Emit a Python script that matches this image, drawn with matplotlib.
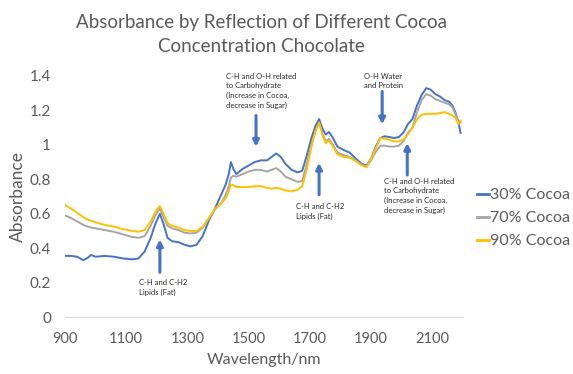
import matplotlib
matplotlib.use("Agg")
import matplotlib.pyplot as plt

plt.rcParams['font.family'] = ['Lato', 'DejaVu Sans']

wavelength = [900, 920, 940, 960, 975, 985, 1000, 1030, 1060, 1090, 1120, 1140, 1160, 1180, 1195, 1210,
              1222, 1235, 1250, 1270, 1290, 1310, 1330, 1350, 1370, 1390, 1410, 1425, 1435, 1442, 1450,
              1460, 1480, 1500, 1520, 1540, 1560, 1575, 1590, 1605, 1620, 1640, 1660, 1675, 1690, 1705,
              1718, 1730, 1742, 1752, 1762, 1772, 1790, 1810, 1830, 1850, 1870, 1885, 1900, 1915, 1930,
              1945, 1960, 1975, 1990, 2005, 2020, 2035, 2050, 2065, 2080, 2095, 2110, 2125, 2140, 2155,
              2165, 2175, 2185, 2192]

cocoa30 = [0.355, 0.355, 0.35, 0.33, 0.345, 0.36, 0.35, 0.355, 0.35, 0.34, 0.335, 0.34, 0.38, 0.46, 0.54, 0.60,
           0.54, 0.46, 0.44, 0.435, 0.42, 0.41, 0.42, 0.47, 0.56, 0.63, 0.71, 0.77, 0.83, 0.90, 0.86,
           0.83, 0.86, 0.88, 0.90, 0.91, 0.91, 0.93, 0.95, 0.93, 0.89, 0.855, 0.84, 0.85, 0.94, 1.04,
           1.11, 1.15, 1.09, 1.06, 1.075, 1.05, 0.99, 0.97, 0.955, 0.92, 0.89, 0.88, 0.92, 0.99, 1.04,
           1.05, 1.045, 1.04, 1.045, 1.07, 1.12, 1.15, 1.23, 1.29, 1.33, 1.32, 1.295, 1.28, 1.26, 1.25,
           1.23, 1.19, 1.13, 1.07]

cocoa70 = [0.59, 0.575, 0.555, 0.535, 0.525, 0.52, 0.515, 0.505, 0.495, 0.48, 0.465, 0.46, 0.47, 0.53, 0.59, 0.63,
           0.58, 0.53, 0.515, 0.505, 0.49, 0.485, 0.49, 0.52, 0.57, 0.625, 0.66, 0.71, 0.76, 0.81, 0.82,
           0.815, 0.83, 0.845, 0.855, 0.855, 0.845, 0.855, 0.865, 0.845, 0.815, 0.80, 0.785, 0.79, 0.89, 1.00,
           1.08, 1.13, 1.06, 1.02, 1.035, 1.01, 0.955, 0.94, 0.93, 0.91, 0.885, 0.875, 0.91, 0.96, 0.995,
           0.995, 0.99, 0.99, 0.995, 1.02, 1.07, 1.10, 1.19, 1.26, 1.295, 1.285, 1.265, 1.255, 1.245, 1.235,
           1.22, 1.18, 1.14, 1.13]

cocoa90 = [0.65, 0.63, 0.605, 0.58, 0.565, 0.56, 0.55, 0.535, 0.525, 0.51, 0.50, 0.495, 0.505, 0.555, 0.61, 0.645,
           0.60, 0.545, 0.53, 0.52, 0.505, 0.50, 0.50, 0.525, 0.575, 0.63, 0.66, 0.69, 0.73, 0.77, 0.765,
           0.755, 0.755, 0.755, 0.76, 0.76, 0.75, 0.745, 0.75, 0.745, 0.735, 0.73, 0.74, 0.76, 0.86, 0.99,
           1.08, 1.13, 1.05, 1.01, 1.025, 1.0, 0.945, 0.93, 0.925, 0.905, 0.88, 0.87, 0.92, 0.98, 1.04,
           1.035, 1.03, 1.02, 1.02, 1.03, 1.06, 1.10, 1.15, 1.175, 1.18, 1.18, 1.18, 1.185, 1.19, 1.18,
           1.17, 1.16, 1.12, 1.14]

series_names = ['30% Cocoa', '70% Cocoa', '90% Cocoa']
colors = ['#4472C4', '#A5A5A5', '#FFC000']

x_ticks = [900, 1100, 1300, 1500, 1700, 1900, 2100]
y_ticks = [0, 0.2, 0.4, 0.6, 0.8, 1.0, 1.2, 1.4]
y_labels = ['0', '0.2', '0.4', '0.6', '0.8', '1', '1.2', '1.4']

annotations = [
    ("C-H and C-H2\nLipids (Fat)", (1210, 0.45), (1210, 0.26), (1142, 0.22)),
    ("C-H and O-H related\nto Carbohydrate\n(Increase in Cocoa,\ndecrease in Sugar)", (1524, 0.99), (1524, 1.17), (1426, 1.42)),
    ("C-H and C-H2\nLipids (Fat)", (1730, 0.895), (1730, 0.71), (1655, 0.66)),
    ("O-H Water\nand Protein", (1936, 1.12), (1936, 1.31), (1877, 1.42)),
    ("C-H and O-H related\nto Carbohydrate\n(Increase in Cocoa,\ndecrease in Sugar)", (2018, 1.01), (2018, 0.825), (1942, 0.81)),
]

fig = plt.figure(figsize=(5.73, 3.74), dpi=100)
ax = fig.add_axes([0.1134, 0.1524, 0.6946, 0.6444])

for vals, name, c in zip([cocoa30, cocoa70, cocoa90], series_names, colors):
    ax.plot(wavelength, vals, color=c, lw=1.4, label=name)

ax.set_xlim(900, 2200)
ax.set_ylim(0, 1.4)
ax.set_xticks(x_ticks)
ax.set_yticks(y_ticks)
ax.set_yticklabels(y_labels)
ax.tick_params(axis='x', length=0, labelsize=10.5, colors='#595959', pad=11)
ax.tick_params(axis='y', length=0, labelsize=11, colors='#595959', pad=10)
for s in ['top', 'right', 'left']:
    ax.spines[s].set_visible(False)
ax.spines['bottom'].set_color('#D9D9D9')

ax.set_xlabel('Wavelength/nm', fontsize=11.5, color='#595959')
ax.set_ylabel('Absorbance', fontsize=12.5, color='#595959')
ax.xaxis.set_label_coords(0.5, -0.178)
ax.xaxis.label.set_va('center')
ax.yaxis.set_label_coords(-0.118, 0.5)
ax.yaxis.label.set_va('center')

fig.text(0.4555, 0.909, 'Absorbance by Reflection of Different Cocoa\nConcentration Chocolate',
         ha='center', va='center', fontsize=13.5, color='#595959', linespacing=1.5)

for text, tip, tail, tpos in annotations:
    ax.annotate('', xy=tip, xytext=tail,
                arrowprops=dict(arrowstyle='-|>,head_length=0.35,head_width=0.18', color='#4472C4', lw=2.2,
                                shrinkA=0, shrinkB=0), annotation_clip=False)
    ax.text(tpos[0], tpos[1], text, fontsize=5.5, color='#262626', ha='left', va='top',
            linespacing=1.45, clip_on=False)

leg = ax.legend(loc='center left', bbox_to_anchor=(1.035, 0.41), frameon=False, fontsize=11.5,
                borderpad=0, borderaxespad=0,
                handlelength=0.75, handletextpad=0.05, labelspacing=0.55, labelcolor='#595959')
for line in leg.get_lines():
    line.set_linewidth(2)

fig.savefig('out.png', dpi=100)
